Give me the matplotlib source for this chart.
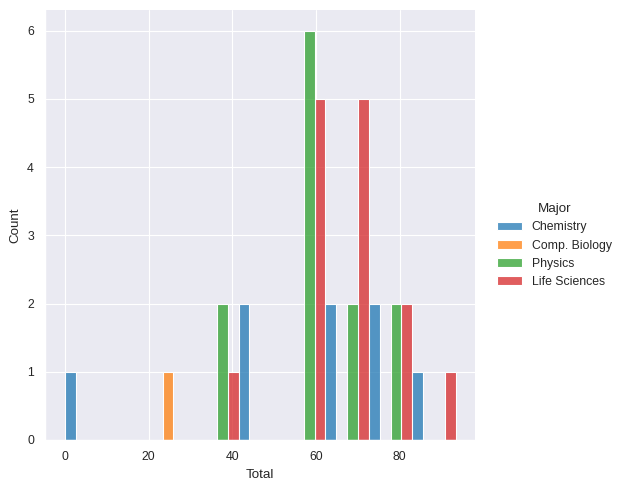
import pandas as pd
import matplotlib.pyplot as plt
import seaborn as sns

# histogram range and bin count (9 equal bins between min and max score)
score_min, score_max = 0, 93.4
n_bins = 9
majors = ["Chemistry", "Comp. Biology", "Physics", "Life Sciences"]

# counts per bin
chemistry = [1, 0, 0, 0, 2, 0, 2, 2, 1]
comp_bio = [0, 0, 1, 0, 0, 0, 0, 0, 0]
physics = [0, 0, 0, 2, 0, 6, 2, 2, 0]
life_sci = [0, 0, 0, 1, 0, 5, 5, 2, 1]

sns.set_theme(context="paper")
plt.rcParams["font.family"] = ["Liberation Sans", "DejaVu Sans"]

width = (score_max - score_min) / n_bins
rows = []
for major, counts in zip(majors, [chemistry, comp_bio, physics, life_sci]):
    for i, n in enumerate(counts):
        rows.append({"Total": score_min + (i + 0.5) * width, "Major": major, "n": n})
df = pd.DataFrame(rows)

g = sns.displot(df, x="Total", hue="Major", weights="n", bins=n_bins,
                binrange=(score_min, score_max), multiple="dodge",
                hue_order=majors, palette="tab10", height=5)
g.ax.set_ylabel("Count")

fig = g.figure
fig.set_size_inches(6.22, 4.91)
fig.subplots_adjust(left=0.073, right=0.764, bottom=0.104, top=0.979)
sns.move_legend(g, "center right", bbox_to_anchor=(1.001, 0.5))
fig.savefig("out.png", dpi=100)
